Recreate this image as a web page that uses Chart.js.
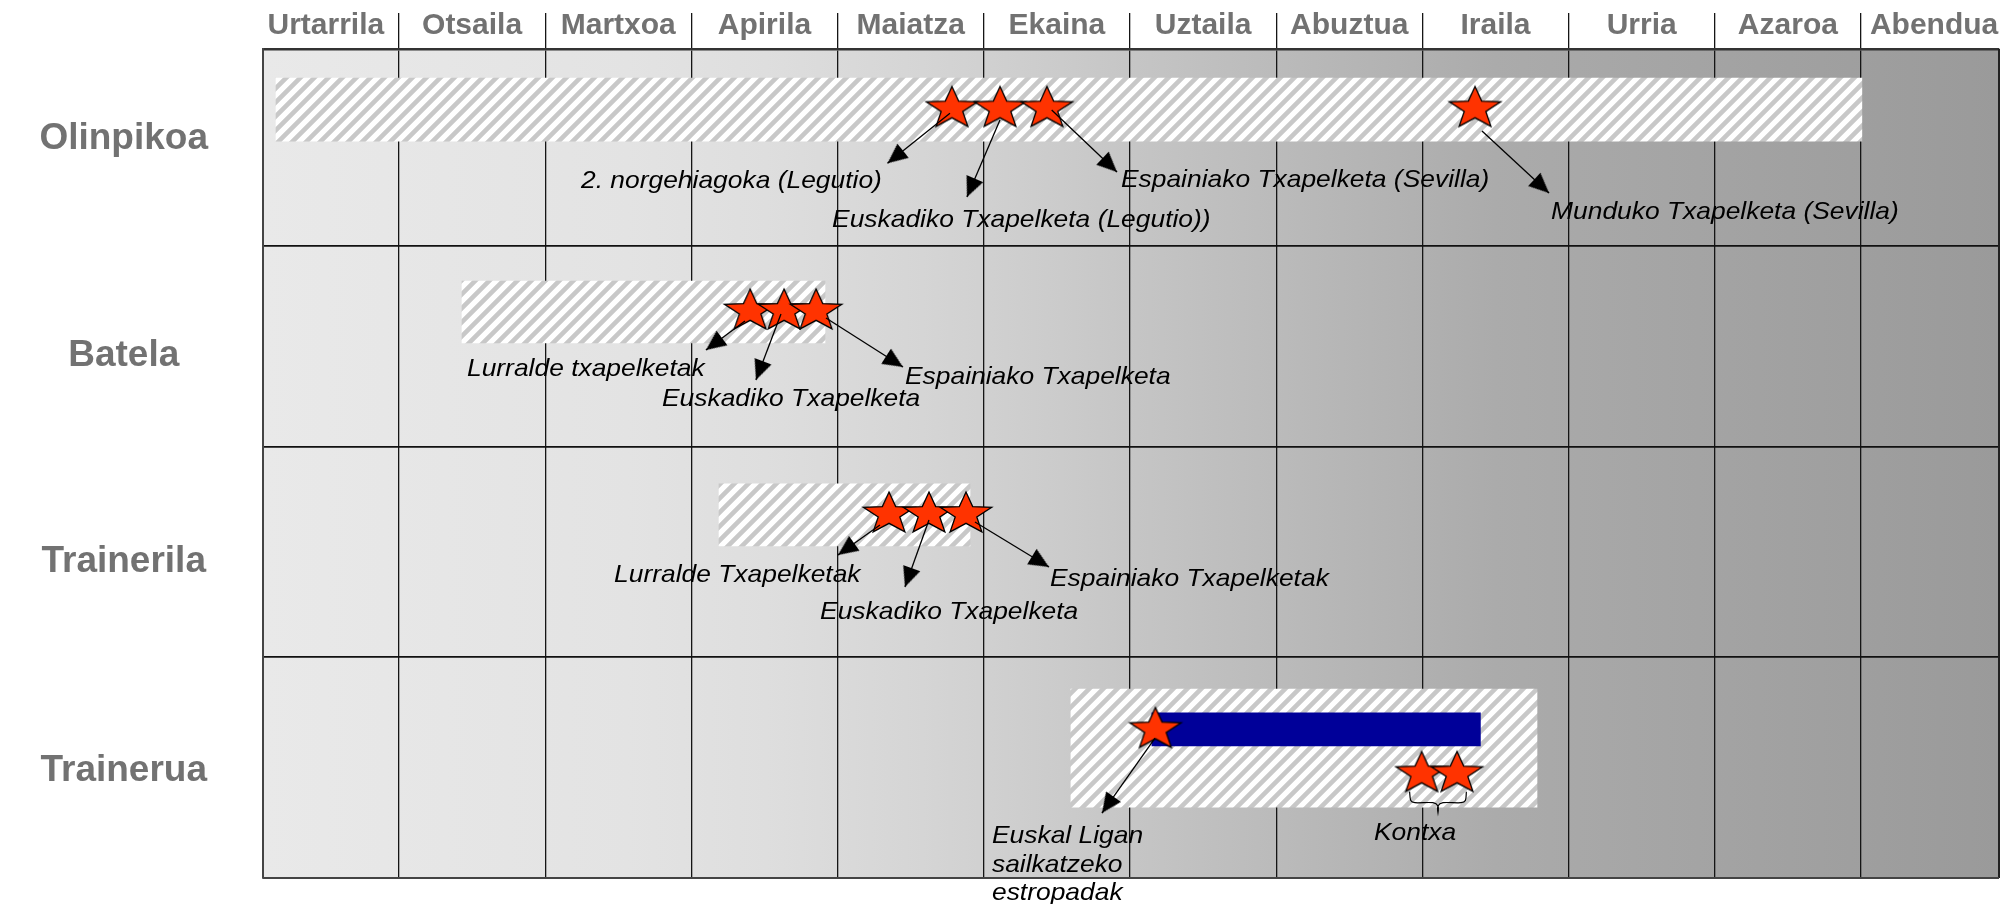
<!DOCTYPE html>
<html><head><meta charset="utf-8">
<script src="https://cdn.jsdelivr.net/npm/chart.js@4.4.0/dist/chart.umd.min.js"></script>
<style>html,body{margin:0;padding:0;background:#fff;}canvas{display:block;}</style>
</head><body>
<canvas id="c" width="2013" height="904" style="width:2013px;height:904px"></canvas>
<script>
// ---------- data (x in months from 1 Jan, y in row units from top) ----------
const months = ['Urtarrila','Otsaila','Martxoa','Apirila','Maiatza','Ekaina','Uztaila','Abuztua','Iraila','Urria','Azaroa','Abendua'];
const rows = ['Olinpikoa','Batela','Trainerila','Trainerua'];
const rowLabelAt = [0.432, 1.479, 2.473, 3.481];
const rowDividers = [0.951, 1.920, 2.934];

const seasonStart = [0.159, 1.431, 3.189, 5.596];
const seasonEnd   = [11.006, 3.914, 4.906, 8.784];
const seasonRow   = [0.2923, 1.269, 2.248, 3.373];

const leagueStart = [6.150];
const leagueEnd   = [8.397];
const leagueRow   = [3.283];

const starX = [4.782, 5.111, 5.432, 8.360, 3.402, 3.634, 3.853, 4.352, 4.625, 4.878, 6.174, 7.995, 8.237];
const starY = [0.2774, 0.2774, 0.2774, 0.2774, 1.2545, 1.2545, 1.2545, 2.2340, 2.2340, 2.2340, 3.2738, 3.4861, 3.4861];

const arrowFromX = [4.7688, 5.1108, 5.4645, 8.4077, 3.3666, 3.6129, 3.9207, 4.2900, 4.6252, 4.9398, 6.1710];
const arrowFromY = [0.3103, 0.3426, 0.2943, 0.3957, 1.3124, 1.2786, 1.2979, 2.2967, 2.2726, 2.2823, 3.3245];
const arrowToX   = [4.3413, 4.8851, 5.9111, 8.8659, 3.0999, 3.4418, 4.4473, 4.0027, 4.4610, 5.4460, 5.8085];
const arrowToY   = [0.5515, 0.7141, 0.5935, 0.6948, 1.4524, 1.5971, 1.5344, 2.4415, 2.5959, 2.4994, 3.6864];

const braceX = [7.9124, 7.9207, 7.9494, 8.0725, 8.1067, 8.1067, 8.1067, 8.1409, 8.2640, 8.2941, 8.3009];
const braceY = [3.5836, 3.6261, 3.6367, 3.6367, 3.6526, 3.6849, 3.6526, 3.6367, 3.6367, 3.6261, 3.5836];

const noteText = ['2. norgehiagoka (Legutio)','Euskadiko Txapelketa (Legutio))','Espainiako Txapelketa (Sevilla)','Munduko Txapelketa (Sevilla)',
  'Lurralde txapelketak','Euskadiko Txapelketa','Espainiako Txapelketa',
  'Lurralde Txapelketak','Euskadiko Txapelketa','Espainiako Txapelketak',
  'Euskal Ligan','sailkatzeko','estropadak','Kontxa'];
const noteX = [2.245, 3.962, 5.938, 8.880, 1.465, 2.799, 4.461, 2.471, 3.880, 5.453, 5.056, 5.056, 5.056, 7.669];
const noteY = [0.6707, 0.8589, 0.6659, 0.8203, 1.5778, 1.7225, 1.6164, 2.5718, 2.7503, 2.5911, 3.8311, 3.9710, 4.1062, 3.8166];

// ---------- styles ----------
const FONT = '"Liberation Sans", Arial, sans-serif';
const seasonThickness = [63, 62, 62, 118];
const leagueThickness = 33;

function makeHatch() {
  const p = 14, c = document.createElement('canvas');
  c.width = p; c.height = p;
  const g = c.getContext('2d');
  g.fillStyle = '#ffffff'; g.fillRect(0, 0, p, p);
  g.strokeStyle = '#c8c8c8'; g.lineWidth = 4.6;
  g.beginPath();
  g.moveTo(-2, p + 2); g.lineTo(p + 2, -2);
  g.moveTo(-p / 2 - 2, p / 2 + 2); g.lineTo(p / 2 + 2, -p / 2 - 2);
  g.moveTo(p / 2 - 2, 1.5 * p + 2); g.lineTo(1.5 * p + 2, p / 2 - 2);
  g.stroke();
  return g.createPattern(c, 'repeat');
}
function makeStar() {
  const c = document.createElement('canvas');
  c.width = 58; c.height = 48;
  const g = c.getContext('2d');
  const sx = 27, sy = 22, ir = 0.42, cx = 29, cy = 24 + 2.1;
  g.beginPath();
  for (let k = 0; k < 10; k++) {
    const a = -Math.PI / 2 + k * Math.PI / 5, r = k % 2 ? ir : 1;
    const px = cx + Math.cos(a) * r * sx, py = cy + Math.sin(a) * r * sy;
    if (k) g.lineTo(px, py); else g.moveTo(px, py);
  }
  g.closePath();
  g.fillStyle = '#ff3300'; g.fill();
  g.lineWidth = 1.3; g.strokeStyle = '#000'; g.stroke();
  return c;
}
function makeHead() {
  const c = document.createElement('canvas');
  c.width = 50; c.height = 50;
  const g = c.getContext('2d');
  g.beginPath(); g.moveTo(25, 25); g.lineTo(5, 16); g.lineTo(5, 34); g.closePath();
  g.fillStyle = '#000'; g.fill();
  return c;
}
const hatch = makeHatch(), starImg = makeStar(), headImg = makeHead();

const datasets = [];
// arrows (on top)
for (let i = 0; i < arrowFromX.length; i++) {
  datasets.push({
    type: 'line', order: 0,
    data: [{x: arrowFromX[i], y: arrowFromY[i]}, {x: arrowToX[i], y: arrowToY[i]}],
    borderColor: '#000', borderWidth: 1.3, fill: false, tension: 0,
    pointRadius: c => c.dataIndex === 1 ? 6 : 0,
    pointStyle: c => c.dataIndex === 1 ? headImg : 'circle',
    pointRotation: c => {
      const d = c.dataset.data, xs = c.chart.scales.x, ys = c.chart.scales.y;
      const dx = xs.getPixelForValue(d[1].x) - xs.getPixelForValue(d[0].x);
      const dy = ys.getPixelForValue(d[1].y) - ys.getPixelForValue(d[0].y);
      return Math.atan2(dy, dx) * 180 / Math.PI;
    },
    clip: false
  });
}
// brace
datasets.push({
  type: 'line', order: 0,
  data: braceX.map((x, i) => ({x, y: braceY[i]})),
  borderColor: '#000', borderWidth: 1.2, fill: false, tension: 0.3, pointRadius: 0
});
// stars
datasets.push({
  type: 'scatter', order: 1,
  data: starX.map((x, i) => ({x, y: starY[i]})),
  pointStyle: starImg, pointRadius: 10
});
// league bar
datasets.push({
  type: 'bar', indexAxis: 'y', order: 2, stack: 'all',
  data: leagueStart.map((s, i) => ({x: [s, leagueEnd[i]], y: leagueRow[i]})),
  backgroundColor: '#000099', barThickness: leagueThickness, borderWidth: 0
});
// season bars
for (let i = 0; i < seasonStart.length; i++) {
  datasets.push({
    type: 'bar', indexAxis: 'y', order: 3, stack: 'all',
    data: [{x: [seasonStart[i], seasonEnd[i]], y: seasonRow[i]}],
    backgroundColor: hatch, barThickness: seasonThickness[i], borderWidth: 0
  });
}

const bgPlugin = {
  id: 'bg',
  beforeDraw(chart) {
    const {ctx, chartArea: a} = chart;
    ctx.save();
    ctx.fillStyle = '#fff'; ctx.fillRect(0, 0, chart.width, chart.height);
    const g = ctx.createLinearGradient(a.left, 0, a.right, 0);
    [[0, '#e9e9e9'], [0.21, '#e3e3e3'], [0.29, '#dedede'], [0.38, '#d5d5d5'], [0.46, '#cbcbcb'],
     [0.54, '#c0c0c0'], [0.63, '#b5b5b5'], [0.71, '#ababab'], [0.79, '#a6a6a6'], [0.88, '#a1a1a1'], [1, '#9a9a9a']]
      .forEach(s => g.addColorStop(s[0], s[1]));
    ctx.fillStyle = g;
    ctx.fillRect(a.left, a.top, a.right - a.left, a.bottom - a.top);
    ctx.restore();
  }
};
const notesPlugin = {
  id: 'notes',
  afterDatasetsDraw(chart) {
    const {ctx} = chart, xs = chart.scales.x, ys = chart.scales.y;
    ctx.save();
    ctx.font = 'italic 24px ' + FONT;
    ctx.fillStyle = '#000';
    ctx.textBaseline = 'alphabetic';
    ctx.textAlign = 'left';
    noteText.forEach((t, i) => {
      ctx.save();
      ctx.translate(xs.getPixelForValue(noteX[i]), ys.getPixelForValue(noteY[i]));
      ctx.scale(1.1, 1);
      ctx.fillText(t, 0, 0);
      ctx.restore();
    });
    ctx.restore();
  },
  afterDraw(chart) {
    const {ctx, chartArea: a} = chart;
    ctx.save();
    ctx.lineWidth = 2;
    ctx.strokeStyle = '#222';
    ctx.beginPath(); ctx.moveTo(a.right, a.top); ctx.lineTo(a.right, a.bottom); ctx.stroke();
    ctx.strokeStyle = '#444';
    ctx.beginPath(); ctx.moveTo(a.left, a.bottom); ctx.lineTo(a.right, a.bottom); ctx.stroke();
    ctx.restore();
  }
};

new Chart(document.getElementById('c'), {
  type: 'bar',
  data: {datasets},
  plugins: [bgPlugin, notesPlugin],
  options: {
    responsive: false, animation: false, devicePixelRatio: 1, events: [],
    layout: {padding: {left: 0, top: 0, right: 14, bottom: 26}},
    plugins: {legend: {display: false}, tooltip: {enabled: false}},
    scales: {
      x: {
        type: 'linear', position: 'top', min: 0.07, max: 11.944, bounds: 'data',
        offset: false, stacked: false,
        afterFit: s => { s.height = 49; s.paddingLeft = 0; s.paddingRight = 0; },
        afterBuildTicks: s => {
          const t = [];
          for (let i = 0; i < months.length; i++) { t.push({value: i + 0.5}); if (i > 0) t.push({value: i}); }
          t.sort((a, b) => a.value - b.value);
          s.ticks = t;
        },
        grid: {
          offset: false, drawOnChartArea: true, drawTicks: true, tickLength: 36, lineWidth: 1.3,
          color: c => (c.tick && Number.isInteger(c.tick.value)) ? '#151515' : 'rgba(0,0,0,0)'
        },
        border: {display: true, color: '#333', width: 2.5},
        ticks: {
          autoSkip: false, maxRotation: 0, minRotation: 0, padding: -31,
          color: '#727272', font: {family: FONT, size: 30, weight: 'bold'},
          callback: v => Number.isInteger(v) ? '' : months[Math.floor(v)]
        }
      },
      y: {
        type: 'linear', position: 'left', min: 0, max: 4, reverse: true, bounds: 'data',
        offset: false,
        afterFit: s => { s.width = 263; s.paddingTop = 0; s.paddingBottom = 0; },
        afterBuildTicks: s => {
          s.ticks = rowLabelAt.concat(rowDividers).sort((a, b) => a - b).map(v => ({value: v}));
        },
        grid: {
          offset: false, drawTicks: false, lineWidth: 1.8,
          color: c => (c.tick && rowDividers.includes(c.tick.value)) ? '#111' : 'rgba(0,0,0,0)'
        },
        border: {display: true, color: '#444', width: 2},
        ticks: {
          autoSkip: false, padding: 55, crossAlign: 'center',
          color: '#727272', font: {family: FONT, size: 37, weight: 'bold'},
          callback: v => { const i = rowLabelAt.indexOf(v); return i >= 0 ? rows[i] : ''; }
        }
      }
    }
  }
});
</script>
</body></html>
